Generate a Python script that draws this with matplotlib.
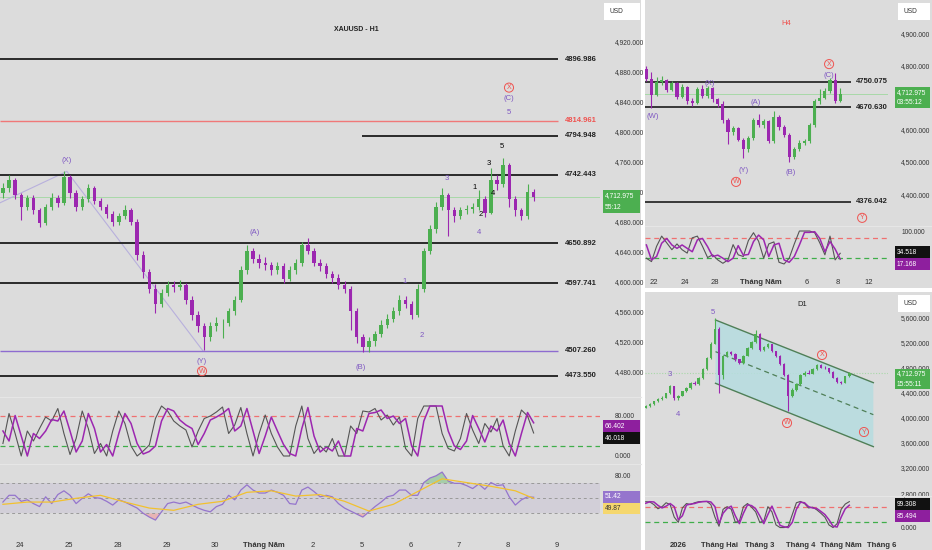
import numpy as np
import matplotlib
matplotlib.use("Agg")
import matplotlib.pyplot as plt
from matplotlib.patches import Rectangle, Polygon

plt.rcParams['font.family'] = ['Liberation Sans', 'DejaVu Sans']

W, H = 932, 550
BG = '#dcdcdc'
UP = '#4caf50'
DN = '#9c27b0'
WAVE = '#7e57c2'
RED = '#ef5350'
TXT = '#333333'
FS = 5.5     # general text
FP = 4.8     # price scale text

# ---------------- H1 (left panel) ----------------
h1_open0 = 4718
h1_close = [4725, 4735, 4715, 4700, 4712, 4695, 4678, 4700, 4712, 4705,
            4740, 4718, 4700, 4710, 4725, 4708, 4700, 4690, 4680, 4688,
            4695, 4680, 4635, 4612, 4590, 4570, 4585, 4595, 4592, 4595,
            4575, 4555, 4540, 4525, 4540, 4545, 4545, 4560, 4575, 4615,
            4640, 4630, 4625, 4622, 4615, 4620, 4603, 4615, 4625, 4648,
            4640, 4625, 4620, 4610, 4605, 4595, 4590, 4560, 4525, 4512,
            4520, 4530, 4542, 4550, 4560, 4575, 4570, 4555, 4590, 4640,
            4670, 4700, 4715, 4695, 4688, 4695, 4697, 4700, 4710, 4692,
            4735, 4730, 4755, 4710, 4695, 4688, 4720, 4713]
h1_high = [4732, 4742, 4738, 4718, 4716, 4715, 4698, 4704, 4718, 4716,
           4748, 4742, 4722, 4714, 4730, 4728, 4712, 4704, 4694, 4692,
           4702, 4698, 4684, 4640, 4616, 4596, 4590, 4600, 4600, 4602,
           4598, 4580, 4560, 4545, 4546, 4552, 4550, 4565, 4580, 4620,
           4648, 4645, 4636, 4632, 4626, 4626, 4624, 4620, 4630, 4652,
           4658, 4644, 4630, 4624, 4614, 4610, 4600, 4594, 4565, 4530,
           4526, 4534, 4548, 4556, 4566, 4582, 4580, 4574, 4596, 4645,
           4676, 4706, 4725, 4718, 4700, 4700, 4702, 4705, 4722, 4714,
           4752, 4742, 4765, 4758, 4714, 4698, 4730, 4724]
h1_low = [4712, 4720, 4710, 4682, 4695, 4690, 4672, 4675, 4696, 4700,
          4702, 4712, 4694, 4696, 4706, 4704, 4695, 4685, 4674, 4676,
          4684, 4676, 4628, 4605, 4584, 4558, 4566, 4580, 4586, 4588,
          4570, 4548, 4532, 4508, 4520, 4534, 4524, 4540, 4555, 4572,
          4610, 4625, 4618, 4615, 4608, 4610, 4598, 4600, 4610, 4620,
          4636, 4620, 4614, 4604, 4598, 4590, 4584, 4535, 4518, 4505,
          4506, 4514, 4526, 4538, 4546, 4555, 4564, 4550, 4552, 4586,
          4636, 4665, 4695, 4660, 4680, 4684, 4690, 4692, 4696, 4686,
          4690, 4722, 4726, 4700, 4688, 4682, 4684, 4708]
h1_stoch_d = [50, 30, 81, 40, 0, 45, 35, 50, 73, 70,
              90, 50, 8, 30, 85, 55, 8, 23, 0, 45,
              85, 65, 25, 4, 9, 20, 70, 95, 90, 72,
              62, 55, 23, 45, 72, 78, 85, 95, 50, 60,
              95, 50, 5, 40, 78, 50, 23, 5, 0, 55,
              97, 40, 8, 18, 10, 30, 0, 0, 55, 50,
              85, 87, 92, 75, 80, 65, 75, 20, 0, 70,
              100, 100, 100, 50, 20, 13, 30, 81, 55, 28,
              60, 50, 72, 25, 0, 45, 87, 66.4]
h1_stoch_k = [25, 85, 45, 0, 50, 30, 55, 78, 70, 95,
              45, 3, 35, 90, 55, 5, 25, 0, 50, 90,
              65, 20, 0, 10, 22, 75, 100, 90, 70, 60,
              52, 18, 50, 75, 80, 88, 98, 45, 62, 97,
              45, 0, 45, 82, 45, 18, 0, 0, 60, 100,
              35, 5, 20, 8, 35, 0, 0, 60, 45, 90,
              88, 95, 72, 82, 62, 78, 15, 0, 75, 100,
              100, 100, 45, 15, 10, 35, 85, 52, 25, 65,
              48, 75, 20, 0, 50, 92, 80, 46]
h1_rsi = [45, 54, 54, 46, 48, 43, 39, 52, 43, 55,
          60, 54, 43, 50, 56, 51, 50, 46, 41, 48,
          45, 41, 37, 30, 25, 21, 32, 43, 45, 43,
          45, 41, 37, 34, 32, 39, 42, 54, 48, 61,
          68, 61, 57, 57, 61, 58, 54, 43, 42, 61,
          65, 59, 52, 54, 52, 43, 37, 33, 29, 25,
          32, 39, 45, 52, 54, 61, 61, 54, 54, 71,
          77, 80, 85, 73, 70, 70, 67, 63, 69, 62,
          71, 67, 68, 52, 41, 48, 52, 51.4]
h1_ma_idx = [0, 4, 8, 12, 16, 20, 24, 28, 32, 36, 40, 44, 48, 52, 56, 60, 64, 68, 72, 76, 80, 84, 87]
h1_ma_val = [42, 45, 45, 50, 54, 45, 37, 34, 42, 46, 58, 60, 53, 55, 46, 33, 42, 59, 76, 71, 66, 60, 49.9]
h1_day_labels = ['24', '25', '28', '29', '30', 'Tháng Năm', '2', '5', '6', '7', '8', '9']
h1_price_ticks = [4480, 4520, 4560, 4600, 4640, 4680, 4720, 4760, 4800, 4840, 4880, 4920]
h1_levels = [4896.986, 4814.961, 4794.948, 4742.443, 4650.892, 4597.741, 4507.260, 4473.550]
h1_level_from = [-0.41, -0.41, 7.0, -0.41, -0.41, -0.41, -0.41, -0.41]
h1_level_col = ['#2b2b2b', '#f07878', '#2b2b2b', '#2b2b2b', '#2b2b2b', '#2b2b2b', '#8e6cd0', '#2b2b2b']
h1_path_d = [-0.41, 0.96, 3.75]
h1_path_p = [4705, 4747, 4507]
h1_waves = [('(X)', 0.96, 4762, WAVE), ('(A)', 4.80, 4665, WAVE), ('(Y)', 3.73, 4493, WAVE),
            ('(B)', 6.97, 4485, WAVE), ('(C)', 10.02, 4844, WAVE), ('5', 10.02, 4826, WAVE),
            ('3', 8.75, 4737, WAVE), ('4', 9.41, 4665, WAVE), ('1', 7.89, 4600, WAVE),
            ('2', 8.24, 4528, WAVE), ('1', 9.32, 4726, 'black'), ('2', 9.45, 4690, 'black'),
            ('3', 9.61, 4758, 'black'), ('4', 9.69, 4718, 'black'), ('5', 9.88, 4780, 'black')]
h1_circled = [('X', 10.02, 4859), ('W', 3.73, 4480)]
last_price = 4712.975

# ---------------- H4 (top right) ----------------
h4_open0 = 4790
h4_close = [4760, 4710, 4748, 4755, 4725, 4745, 4702, 4735, 4690, 4685,
            4728, 4705, 4730, 4695, 4680, 4630, 4595, 4605, 4570, 4540,
            4575, 4630, 4615, 4628, 4565, 4640, 4610, 4585, 4515, 4540,
            4560, 4565, 4615, 4690, 4700, 4722, 4755, 4690, 4713]
h4_high = [4800, 4780, 4766, 4768, 4760, 4752, 4750, 4742, 4738, 4700,
           4735, 4740, 4738, 4735, 4700, 4690, 4636, 4612, 4610, 4575,
           4580, 4638, 4648, 4635, 4632, 4658, 4645, 4615, 4590, 4548,
           4568, 4572, 4620, 4695, 4728, 4730, 4762, 4778, 4730]
h4_low = [4752, 4668, 4705, 4740, 4718, 4720, 4695, 4698, 4680, 4675,
          4680, 4700, 4700, 4688, 4670, 4620, 4555, 4585, 4565, 4512,
          4530, 4570, 4608, 4605, 4558, 4560, 4600, 4578, 4500, 4508,
          4535, 4552, 4560, 4610, 4680, 4695, 4715, 4685, 4688]
h4_stoch_d = [59, 15, 25, 64, 78, 59, 49, 59, 49, 39,
              74, 78, 54, 25, 29, 20, 10, 20, 57, 29,
              31, 69, 88, 74, 25, 59, 64, 15, 8, 25,
              59, 96, 96, 98, 78, 39, 69, 47, 17.2]
h4_stoch_k = [20, 10, 55, 85, 65, 45, 62, 45, 35, 80,
              85, 55, 22, 30, 15, 5, 15, 60, 30, 25,
              72, 95, 70, 20, 62, 68, 8, 3, 20, 62,
              100, 100, 100, 95, 65, 30, 85, 15, 34.5]
h4_price_ticks = [4400, 4500, 4600, 4800, 4900]   # 4,700 sits under the price badge
h4_day_ticks = [0, 2, 4, 7, 10, 12, 14]
h4_day_labels = ['22', '24', '28', 'Tháng Năm', '6', '8', '12']
h4_levels = [4750.075, 4670.630, 4376.042]
h4_waves = [('(W)', -0.07, 4643), ('(X)', 3.66, 4746), ('(A)', 6.67, 4684), ('(Y)', 5.82, 4472),
            ('(B)', 8.95, 4466), ('(C)', 11.44, 4771)]
h4_circled = [('X', 11.44, 4805), ('W', 5.36, 4438), ('Y', 13.6, 4326)]

# ---------------- D1 (bottom right) ----------------
d1_open0 = 4160
d1_close = [4185, 4220, 4260, 4300, 4320, 4390, 4500, 4320, 4350, 4420,
            4470, 4560, 4540, 4630, 4770, 4950, 5180, 5420, 4680, 4980,
            5040, 5020, 4930, 4880, 4990, 5110, 5200, 5340, 5080, 5130,
            5170, 5060, 4990, 4860, 4680, 4350, 4450, 4540, 4680, 4720,
            4700, 4770, 4840, 4800, 4790, 4730, 4640, 4570, 4560, 4660,
            4713]
d1_high = [4200, 4230, 4275, 4315, 4340, 4400, 4520, 4510, 4370, 4430,
           4490, 4575, 4580, 4650, 4790, 4970, 5200, 5590, 5440, 5000,
           5070, 5060, 5030, 4940, 5000, 5130, 5220, 5390, 5350, 5150,
           5190, 5180, 5070, 5000, 4870, 4690, 4470, 4560, 4700, 4740,
           4760, 4790, 4860, 4860, 4820, 4800, 4740, 4650, 4590, 4670,
           4730]
d1_low = [4150, 4170, 4210, 4250, 4290, 4310, 4380, 4290, 4290, 4340,
          4410, 4460, 4520, 4520, 4620, 4760, 4940, 5170, 4390, 4620,
          4960, 5000, 4910, 4850, 4860, 4980, 5090, 5190, 5060, 5060,
          5110, 5040, 4970, 4840, 4660, 4100, 4330, 4430, 4520, 4670,
          4690, 4690, 4760, 4790, 4770, 4720, 4630, 4550, 4530, 4550,
          4650]
d1_stoch_d = [93, 99, 98, 85, 75, 82, 92, 80, 30, 45,
              86, 90, 92, 97, 99, 100, 98, 80, 15, 55,
              73, 82, 45, 15, 55, 87, 84, 72, 45, 15,
              50, 82, 45, 8, 3, 0, 20, 70, 97, 95,
              80, 75, 73, 62, 50, 30, 5, 2, 40, 72,
              85.5]
d1_stoch_k = [99, 98, 88, 72, 80, 95, 88, 40, 20, 75,
              92, 88, 95, 99, 100, 100, 88, 40, 5, 70,
              80, 70, 20, 25, 80, 92, 78, 60, 20, 25,
              80, 60, 10, 0, 0, 5, 50, 95, 100, 92,
              75, 78, 68, 55, 40, 10, 0, 15, 70, 90,
              99.3]
d1_price_ticks = [2800, 3200, 3600, 4000, 4400, 4800, 5200, 5600]
d1_month_labels = ['2026', 'Tháng Hai', 'Tháng 3', 'Tháng 4', 'Tháng Năm', 'Tháng 6']
chan_m = [0.914, 4.79]
chan_upper = [5557, 4559]
chan_lower = [4549, 3540]
d1_waves = [('5', 0.853, 5684), ('3', -0.204, 4697), ('4', -0.007, 4060)]
d1_circled = [('X', 3.53, 5000), ('W', 2.67, 3917), ('Y', 4.56, 3773)]


def px_axes(fig, x0, y0, x1, y1):
    ax = fig.add_axes([x0 / W, 1 - y1 / H, (x1 - x0) / W, (y1 - y0) / H])
    ax.set_facecolor('none')
    for s in ax.spines.values():
        s.set_visible(False)
    ax.tick_params(left=False, right=False, bottom=False, top=False,
                   labelleft=False, labelbottom=False, labelsize=FS, colors=TXT)
    return ax


def px_rect(fig, x0, y0, x1, y1, fc, z=0):
    fig.add_artist(Rectangle((x0 / W, 1 - y1 / H), (x1 - x0) / W, (y1 - y0) / H,
                             transform=fig.transFigure, fc=fc, ec='none', zorder=z))


def badge(fig, x0, y0, x1, y1, fc, lines, tc='white'):
    px_rect(fig, x0, y0, x1, y1, fc, z=5)
    n = len(lines)
    for i, t in enumerate(lines):
        yc = y0 + (i + 0.5) * (y1 - y0) / n
        fig.text((x0 + 2) / W, 1 - yc / H, t, fontsize=FP, color=tc, va='center', ha='left', zorder=6)


def candles(ax, x, o0, c, h, l, w):
    c = np.asarray(c, float)
    o = np.concatenate([[o0], c[:-1]])
    col = np.where(c >= o, UP, DN)
    ax.vlines(x, l, h, colors=col, lw=0.8, zorder=3)
    ax.bar(x, np.maximum(np.abs(c - o), 1e-9), bottom=np.minimum(o, c), width=w,
           color=col, lw=0, zorder=3)


def price_ticks(ax, ticks, pad):
    ax.yaxis.set_ticks(ticks)
    ax.set_yticklabels(['{:,.3f}'.format(t) for t in ticks])
    ax.tick_params(axis='y', labelright=True, pad=pad, labelsize=FP, colors=TXT)


def circled(ax, letter, x, y):
    ax.text(x, y, letter, color=RED, fontsize=5, ha='center', va='center', zorder=6,
            bbox=dict(boxstyle='circle,pad=0.15', fc='none', ec=RED, lw=0.7))


def usd_box(fig, x0, y0, x1, y1):
    px_rect(fig, x0, y0, x1, y1, 'white', z=5)
    fig.text((x0 + 5) / W, 1 - (y0 + y1) / 2 / H, 'USD', fontsize=FP, color=TXT, va='center', zorder=6)


def date_axis(ax, ticks, labels, pad):
    ax.xaxis.set_ticks(ticks)
    ax.set_xticklabels(labels)
    ax.tick_params(axis='x', labelbottom=True, pad=pad, labelsize=FS, colors=TXT)
    for lab in ax.get_xticklabels():
        if lab.get_text().startswith('Tháng') or lab.get_text() == '2026':
            lab.set_fontweight('bold')


def stoch(ax, x, k, d, ylim):
    ax.set_ylim(*ylim)
    ax.axhline(80, color='#f07070', lw=0.9, ls=(0, (4, 3)))
    ax.axhline(20, color='#3fae4a', lw=0.9, ls=(0, (4, 3)))
    ax.plot(x, k, color='#555555', lw=0.8)
    ax.plot(x, d, color=DN, lw=1.1)


fig = plt.figure(figsize=(W / 100, H / 100), dpi=100, facecolor='white')

# panel backgrounds and pane separators
px_rect(fig, 0, 0, 641, 550, BG, z=-2)
px_rect(fig, 645, 0, 932, 288, BG, z=-2)
px_rect(fig, 645, 292, 932, 550, BG, z=-2)
for x0, x1, yy in ((0, 641, 397), (0, 641, 464), (645, 932, 226), (645, 932, 496)):
    fig.add_artist(plt.Line2D([x0 / W, x1 / W], [1 - yy / H] * 2, color='#e6e6e6', lw=0.8,
                              transform=fig.transFigure))

# ---------- H1 price ----------
h1_x = np.arange(len(h1_close)) / 8 - 0.35
xl1 = (-0.41, 11.885)
ax = px_axes(fig, 0, 0, 600, 395)
ax.set_xlim(*xl1)
ax.set_ylim(4448.1, 4976.1)
ax.axhline(last_price, color='#a8d8a8', lw=0.7, zorder=1)
ax.plot(h1_path_d, h1_path_p, color='#b8b0dc', lw=0.8, zorder=2)
ax.hlines(h1_levels, h1_level_from, 11.02, colors=h1_level_col,
          lw=[1.4, 1.0, 1.4, 1.4, 1.4, 1.4, 1.0, 1.4], zorder=2)
for lv, lc in zip(h1_levels, h1_level_col):
    tc = RED if lc == '#f07878' else '#222222'
    ax.text(11.17, lv, '{:.3f}'.format(lv), fontsize=FS, fontweight='bold', color=tc,
            va='center', ha='left')
candles(ax, h1_x, h1_open0, h1_close, h1_high, h1_low, 0.07)
for t, d, p, c in h1_waves:
    ax.text(d, p, t, color=c, fontsize=FS, ha='center', va='center', zorder=6)
for t, d, p in h1_circled:
    circled(ax, t, d, p)
ax.text(6.9, 4935, 'XAUUSD - H1', fontsize=5, fontweight='bold', color='#222222', ha='center')
price_ticks(ax, h1_price_ticks, 7)

# ---------- H1 stochastic ----------
ax = px_axes(fig, 0, 398, 600, 463)
ax.set_xlim(*xl1)
stoch(ax, h1_x, h1_stoch_k, h1_stoch_d, (-14, 116))
ax.yaxis.set_ticks([0, 80])
ax.set_yticklabels(['0.000', '80.000'])
ax.tick_params(axis='y', labelright=True, pad=7, labelsize=FP, colors=TXT)

# ---------- H1 RSI ----------
ax = px_axes(fig, 0, 465, 600, 532)
ax.set_xlim(*xl1)
ax.set_ylim(5.1, 94.4)
ax.axhspan(30, 70, color='#8a74c0', alpha=0.12, lw=0)
for lv in (70, 50, 30):
    ax.axhline(lv, color='#9a9a9a', lw=0.7, ls=(0, (3, 3)))
rsi = np.asarray(h1_rsi, float)
ax.fill_between(h1_x, 70, rsi, where=rsi > 70, interpolate=True, color='#66bb6a', alpha=0.45, lw=0)
ax.fill_between(h1_x, 30, rsi, where=rsi < 30, interpolate=True, color='#ef9a9a', alpha=0.6, lw=0)
ax.plot(h1_x, rsi, color='#9575cd', lw=0.9)
ax.plot(h1_x[h1_ma_idx], h1_ma_val, color='#f2c12e', lw=0.9)
ax.yaxis.set_ticks([80])
ax.set_yticklabels(['80.00'])
ax.tick_params(axis='y', labelright=True, pad=7, labelsize=FP, colors=TXT)
date_axis(ax, np.arange(len(h1_day_labels)), h1_day_labels, 4)

usd_box(fig, 604, 3, 640, 20)
badge(fig, 603, 190, 640, 213, '#4caf50', ['4,712.975', '55:12'])
badge(fig, 603, 420, 640, 432, '#8e1f9e', ['66.402'])
badge(fig, 603, 432, 640, 444, '#111111', ['46.018'])
badge(fig, 603, 491, 640, 503, '#9575cd', ['51.42'])
badge(fig, 603, 503, 640, 514, '#f5d76e', ['49.87'], tc='#333333')

# ---------- H4 price ----------
h4_x = np.arange(len(h4_close)) / 3 - 0.5
xl4 = (-0.59, 15.29)
ax = px_axes(fig, 645, 0, 888, 225)
ax.set_xlim(*xl4)
ax.set_ylim(4303.7, 5004.7)
ax.axhline(last_price, color='#a8d8a8', lw=0.7, zorder=1)
ax.hlines(h4_levels, -0.59, 12.88, colors='#2b2b2b', lw=1.3, zorder=2)
for lv in h4_levels:
    ax.text(13.2, lv, '{:.3f}'.format(lv), fontsize=FS, fontweight='bold', color='#222222',
            va='center', ha='left')
candles(ax, h4_x, h4_open0, h4_close, h4_high, h4_low, 0.2)
for t, d, p in h4_waves:
    ax.text(d, p, t, color=WAVE, fontsize=FS, ha='center', va='center', zorder=6)
for t, d, p in h4_circled:
    circled(ax, t, d, p)
ax.text(8.63, 4930, 'H4', color=RED, fontsize=FS, ha='center', va='center')
price_ticks(ax, h4_price_ticks, 6)

# ---------- H4 stochastic ----------
ax = px_axes(fig, 645, 227, 888, 270)
ax.set_xlim(*xl4)
stoch(ax, h4_x, h4_stoch_k, h4_stoch_d, (-14.7, 111.8))
ax.yaxis.set_ticks([100])
ax.set_yticklabels(['100.000'])
ax.tick_params(axis='y', labelright=True, pad=6, labelsize=FP, colors=TXT)
date_axis(ax, h4_day_ticks, h4_day_labels, 3)

usd_box(fig, 898, 3, 930, 20)
badge(fig, 895, 87, 930, 108, '#4caf50', ['4,712.975', '03:55:12'])
badge(fig, 895, 246, 930, 258, '#111111', ['34.518'])
badge(fig, 895, 258, 930, 270, '#8e1f9e', ['17.168'])

# ---------- D1 price ----------
d1_x = np.arange(len(d1_close)) * 0.1 - 0.8
xld = (-0.818, 5.15)
ax = px_axes(fig, 645, 292, 888, 495)
ax.set_xlim(*xld)
ax.set_ylim(2770, 6003)
ax.axhline(last_price, color='#a8d8a8', lw=0.8, ls=(0, (1, 1.5)), zorder=1)
poly = np.array([[chan_m[0], chan_upper[0]], [chan_m[1], chan_upper[1]],
                 [chan_m[1], chan_lower[1]], [chan_m[0], chan_lower[0]]])
ax.add_patch(Polygon(poly, closed=True, fc='#b6dde0', ec='none', alpha=0.85, zorder=1))
ax.plot(chan_m, chan_upper, color='#4f7f57', lw=1.0, zorder=2)
ax.plot(chan_m, chan_lower, color='#4f7f57', lw=1.0, zorder=2)
ax.plot(chan_m, [(a + b) / 2 for a, b in zip(chan_upper, chan_lower)], color='#4f7f57',
        lw=0.9, ls=(0, (4, 3)), zorder=2)
candles(ax, d1_x, d1_open0, d1_close, d1_high, d1_low, 0.06)
for t, m, p in d1_waves:
    ax.text(m, p, t, color=WAVE, fontsize=FS, ha='center', va='center', zorder=6)
for t, m, p in d1_circled:
    circled(ax, t, m, p)
ax.text(3.04, 5796, 'D1', color='#222222', fontsize=FS, ha='center', va='center')
price_ticks(ax, d1_price_ticks, 6)

# ---------- D1 stochastic ----------
ax = px_axes(fig, 645, 497, 888, 532)
ax.set_xlim(*xld)
stoch(ax, d1_x, d1_stoch_k, d1_stoch_d, (-17, 117))
ax.yaxis.set_ticks([0])
ax.set_yticklabels(['0.000'])
ax.tick_params(axis='y', labelright=True, pad=6, labelsize=FP, colors=TXT)
date_axis(ax, np.arange(len(d1_month_labels)), d1_month_labels, 4)

usd_box(fig, 898, 295, 930, 312)
badge(fig, 895, 369, 930, 389, '#4caf50', ['4,712.975', '15:55:11'])
badge(fig, 895, 498, 930, 510, '#111111', ['99.308'])
badge(fig, 895, 510, 930, 522, '#8e1f9e', ['85.494'])

fig.savefig('out.png', dpi=100, facecolor='white')
